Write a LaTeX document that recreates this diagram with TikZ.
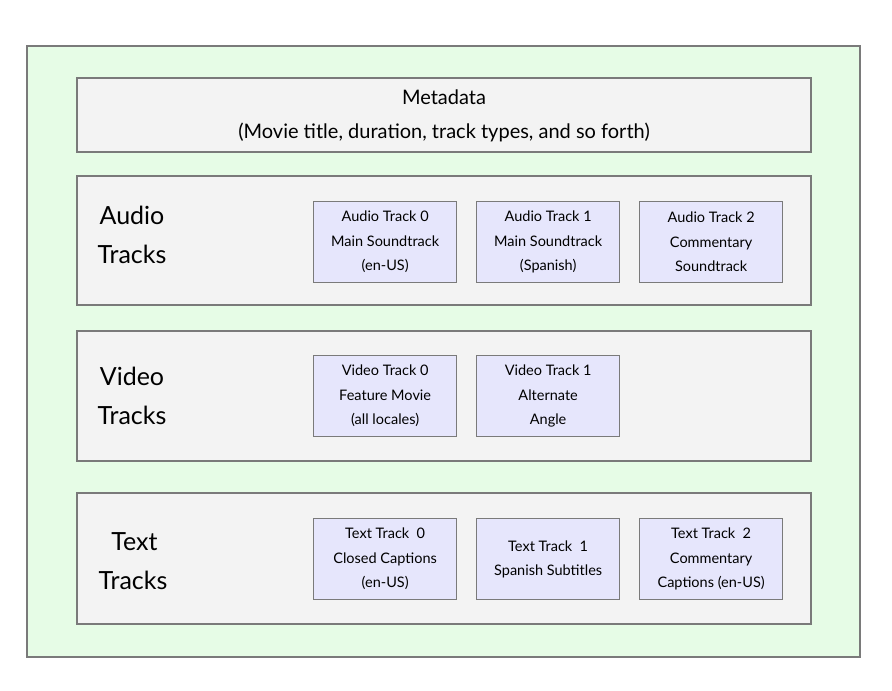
\documentclass[tikz,border=0pt]{standalone}
\usepackage{fontspec}
\setmainfont{Lato}
\definecolor{outerfill}{HTML}{E6FCE6}
\definecolor{bandfill}{HTML}{F3F3F3}
\definecolor{trackfill}{HTML}{E6E6FC}
\definecolor{edgegray}{HTML}{7A7A7A}
\begin{document}
\begin{tikzpicture}[x=1pt,y=-1pt,
  panel/.style={draw=edgegray,line width=1.3pt,fill=bandfill},
  trackbox/.style={draw=edgegray,line width=1.3pt,fill=trackfill,minimum width=143pt,minimum height=81pt,anchor=north west,align=center,font=\fontsize{14.5}{24.5}\selectfont,inner sep=0pt},
  biglabel/.style={align=center,font=\fontsize{25}{39}\selectfont,inner sep=0pt}]
\useasboundingbox (0,0) rectangle (892,691);
\draw[draw=edgegray,line width=1.3pt,fill=outerfill] (27,46) rectangle (860,657);
% metadata
\draw[panel] (77,78) rectangle (811,152);
\node[align=center,font=\fontsize{20}{34}\selectfont,inner sep=0pt] (meta) at (444,116) {Metadata\\(Movie title, duration, track types, and so forth)};
% bands
\draw[panel] (77,176) rectangle (811,305);
\draw[panel] (77,331) rectangle (811,461);
\draw[panel] (77,493) rectangle (811,624);
\node[biglabel] (al) at (132,235) {Audio\\Tracks};
\node[biglabel] (vl) at (132,396) {Video\\Tracks};
\node[biglabel] (tl) at (133,561) {\hspace*{3pt}Text\\Tracks};
% audio
\node[trackbox] (a0) at (313,201) {Audio Track 0\\Main Soundtrack\\(en-US)};
\node[trackbox] (a1) at (476,201) {Audio Track 1\\Main Soundtrack\\(Spanish)};
\node[trackbox] (a2) at (639,201) {Audio Track 2\\Commentary\\Soundtrack};
% video
\node[trackbox] (v0) at (313,355) {Video Track 0\\Feature Movie\\(all locales)};
\node[trackbox] (v1) at (476,355) {Video Track 1\\Alternate\\Angle};
% text
\node[trackbox] (t0) at (313,518) {Text Track\ \ 0\\Closed Captions\\(en-US)};
\node[trackbox] (t1) at (476,518) {Text Track\ \ 1\\Spanish Subtitles};
\node[trackbox] (t2) at (639,518) {Text Track\ \ 2\\Commentary\\Captions (en-US)};
\end{tikzpicture}
\end{document}
